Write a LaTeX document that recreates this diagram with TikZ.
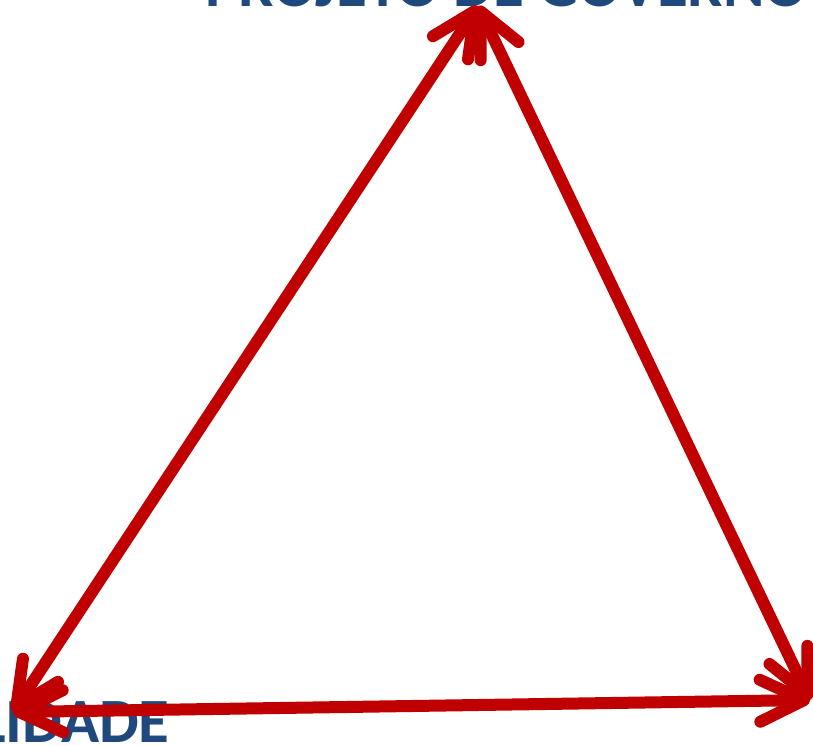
\documentclass[tikz,border=0pt]{standalone}
\usepackage{fontspec}
\setmainfont{Carlito}
\usetikzlibrary{arrows.meta}

\definecolor{titleBlue}{HTML}{1F497D}
\definecolor{arrowRed}{HTML}{C00000}

\begin{document}
\begin{tikzpicture}[
    x=0.5pt, y=-0.5pt,
    % Text Style
    cornerLabel/.style={
        inner sep=0pt, text=titleBlue,
        font=\fontsize{31.5}{36}\selectfont\bfseries
    },
    % Arrow Style
    bothArrow/.style={
        {Straight Barb[length=22pt, width=21pt, round]}-{Straight Barb[length=22pt, width=21pt, round]},
        line width=6pt, line cap=round, draw=arrowRed
    }
]
    \useasboundingbox (0,0) rectangle (813,745);

    % --- CORNERS ---
    \coordinate (top) at (478,6);
    \coordinate (left) at (13,712);
    \coordinate (right) at (810,700);

    % --- LABELS ---
    \node[cornerLabel, anchor=base west] (projeto) at (205,6) {PROJETO DE GOVERNO};
    \node[cornerLabel, anchor=base east] (govern) at (170,742) {GOVERNABILIDADE};

    % --- ARROWS ---
    \draw[bothArrow] (left) -- (top);
    \draw[bothArrow] (top) -- (right);
    \draw[bothArrow] (left) -- (right);

\end{tikzpicture}
\end{document}
